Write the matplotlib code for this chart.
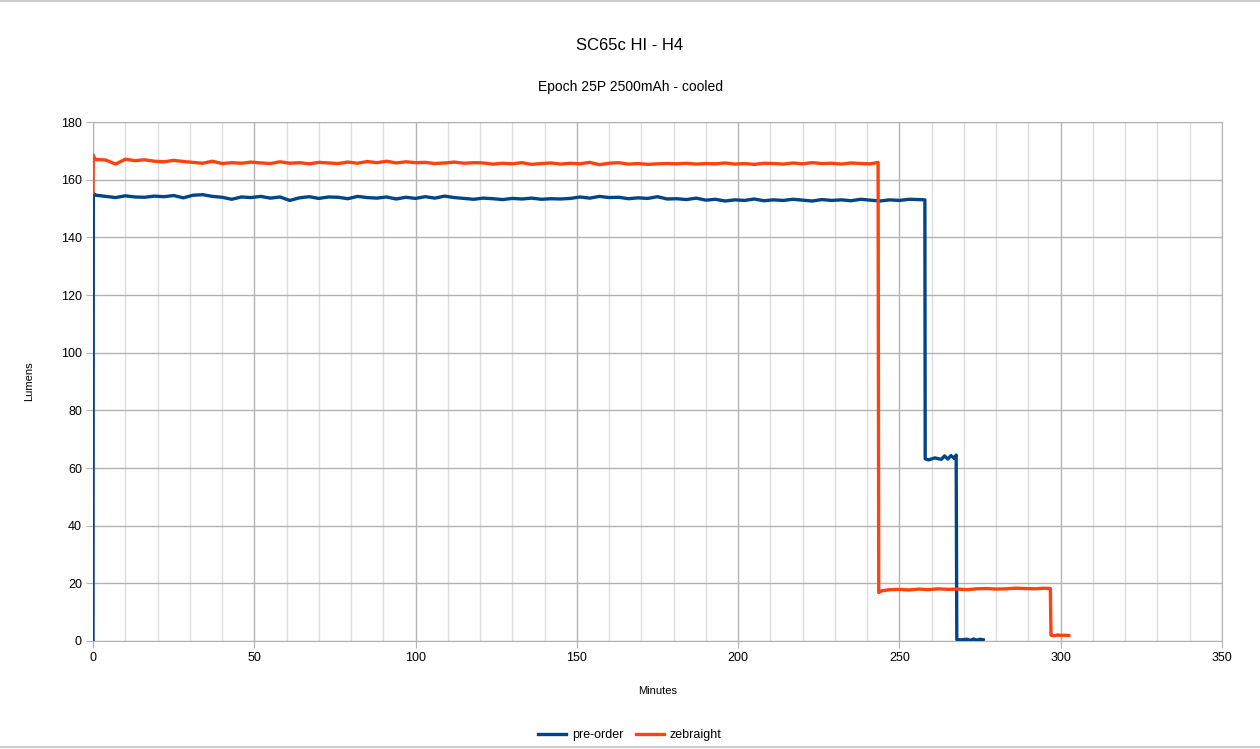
import numpy as np
import matplotlib.pyplot as plt

plt.rcParams['font.family'] = ['Liberation Sans', 'DejaVu Sans']

# pre-order: plateau sampled every 3 min starting at 1 min
blue_plateau = [
    154.6, 154.2, 153.8, 154.4, 154.0, 153.9, 154.3, 154.1, 154.5, 153.7,
    154.6, 154.8, 154.2, 153.9, 153.2, 154.0, 153.8, 154.2, 153.6, 154.0,
    152.8, 153.7, 154.1, 153.5, 154.0, 153.9, 153.4, 154.2, 153.8, 153.6,
    154.0, 153.3, 153.9, 153.5, 154.1, 153.6, 154.3, 153.8, 153.5, 153.2,
    153.6, 153.4, 153.1, 153.5, 153.3, 153.6, 153.2, 153.4, 153.3, 153.5,
    154.0, 153.6, 154.2, 153.8, 153.9, 153.4, 153.7, 153.5, 154.1, 153.3,
    153.4, 153.1, 153.6, 152.9, 153.2, 152.6, 153.0, 152.8, 153.3, 152.7,
    153.0, 152.8, 153.2, 152.9, 152.6, 153.1, 152.8, 153.0, 152.7, 153.2,
    152.9, 152.6, 153.0, 152.8, 153.2, 153.1,
]
blue_start_t = [0, 0.1]
blue_start = [0, 155.2]
blue_tail_t = [257.9, 258.0, 259, 261, 263, 264, 265, 266, 267, 267.6,
               267.8, 269, 271, 272, 273, 274, 275, 276]
blue_tail = [153.0, 63.2, 62.8, 63.5, 63.0, 64.2, 63.1, 64.3, 63.3, 64.5,
             0.5, 0.4, 0.6, 0.2, 0.7, 0.3, 0.6, 0.4]

# zebraight
orange_plateau = [
    167.0, 166.8, 165.4, 167.1, 166.6, 166.9, 166.4, 166.2, 166.7, 166.3,
    166.0, 165.7, 166.4, 165.6, 165.9, 165.7, 166.1, 165.8, 165.6, 166.2,
    165.7, 165.9, 165.5, 166.0, 165.8, 165.6, 166.1, 165.7, 166.3, 165.9,
    166.4, 165.8, 166.2, 165.9, 166.0, 165.6, 165.8, 166.1, 165.7, 165.9,
    165.8, 165.4, 165.7, 165.5, 165.9, 165.3, 165.6, 165.8, 165.4, 165.7,
    165.5, 166.0, 165.2, 165.7, 165.9, 165.4, 165.6, 165.3, 165.5, 165.6,
    165.5, 165.7, 165.4, 165.6, 165.5, 165.8, 165.4, 165.6, 165.3, 165.7,
    165.6, 165.4, 165.8, 165.5, 165.9, 165.6, 165.7, 165.4, 165.8, 165.6,
    165.5,
]
orange_start_t = [0, 0.1, 0.5]
orange_start = [155.5, 168.5, 167.2]
orange_tail_t = [243.4, 243.6, 244.5, 247, 250, 253, 256, 259, 262, 265, 268,
                 271, 274, 277, 280, 283, 286, 289, 292, 295, 296.8,
                 297.0, 298, 299, 300, 301, 302.5]
orange_tail = [166.0, 16.8, 17.4, 17.8, 17.9, 17.7, 18.0, 17.8, 18.1, 17.9, 18.0,
               17.8, 18.1, 18.2, 18.0, 18.1, 18.3, 18.2, 18.1, 18.3, 18.2,
               2.0, 1.8, 2.1, 1.9, 2.0, 1.9]

blue_t = blue_start_t + list(1 + 3 * np.arange(len(blue_plateau))) + blue_tail_t
blue_y = blue_start + blue_plateau + blue_tail
orange_t = orange_start_t + list(1 + 3 * np.arange(len(orange_plateau))) + orange_tail_t
orange_y = orange_start + orange_plateau + orange_tail

fig = plt.figure(figsize=(12.6, 7.49), dpi=100)
ax = fig.add_axes([0.0738, 0.1442, 0.896, 0.6929])

ax.plot(blue_t, blue_y, color='#004586', lw=2.4, label='pre-order', zorder=3)
ax.plot(orange_t, orange_y, color='#ff420e', lw=2.4, label='zebraight', zorder=3)

ax.set_xlim(0, 350)
ax.set_ylim(0, 180)
ax.set_xticks(range(0, 351, 50))
ax.set_xticks(range(0, 351, 10), minor=True)
ax.set_yticks(range(0, 181, 20))
ax.grid(which='major', color='#b3b3b3', lw=1)
ax.grid(which='minor', axis='x', color='#dddddd', lw=1)
ax.set_axisbelow(True)
for s in ax.spines.values():
    s.set_color('#b3b3b3')
ax.tick_params(which='major', length=5, color='#b3b3b3', labelsize=9, pad=3)
ax.tick_params(which='minor', length=0)

ax.set_xlabel('Minutes', fontsize=8, labelpad=16)
ax.set_ylabel('Lumens', fontsize=8, labelpad=19)

fig.text(0.5, 1 - 45 / 749, 'SC65c HI - H4', ha='center', va='center', fontsize=12)
fig.text(0.5, 1 - 87 / 749, 'Epoch 25P 2500mAh - cooled', ha='center', va='center', fontsize=10)

fig.legend(loc='center', bbox_to_anchor=(0.5, 1 - 735 / 749), ncol=2, frameon=False,
           fontsize=9, handlelength=2.2, handletextpad=0.5, columnspacing=1.0)

# spreadsheet frame lines
fig.add_artist(plt.Line2D([0, 1], [0.998, 0.998], color='#cccccc', lw=1.5))
fig.add_artist(plt.Line2D([0, 1], [0.003, 0.003], color='#cccccc', lw=1.5))

fig.savefig('out.png', dpi=100)
